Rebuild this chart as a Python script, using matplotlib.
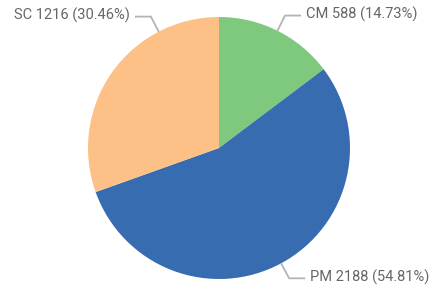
import numpy as np
import matplotlib
matplotlib.use('Agg')
import matplotlib.pyplot as plt

# --- data ---
labels = ['CM', 'PM', 'SC']
values = [588, 2188, 1216]
colors = ['#7fc97f', '#386cb0', '#fdc086']

# angle (deg) where each leader line leaves the pie
anchor_deg = [63.5, -61.7, 117.4]

W, H = 434, 289
cx, cy, R = 219, H - 148, 131

fig = plt.figure(figsize=(W / 100, H / 100), dpi=100)
ax = fig.add_axes([0, 0, 1, 1])

ax.pie(values, colors=colors, startangle=90, counterclock=False,
       center=(cx, cy), radius=R, frame=True,
       wedgeprops=dict(linewidth=0))
ax.set_xlim(0, W)
ax.set_ylim(0, H)
ax.axis('off')

total = sum(values)
for lab, v, a in zip(labels, values, anchor_deg):
    t = np.deg2rad(a)
    x0, y0 = cx + R * np.cos(t), cy + R * np.sin(t)
    x1, y1 = cx + 148 * np.cos(t), cy + 148 * np.sin(t)
    side = 1 if np.cos(t) > 0 else -1
    x2 = x1 + side * 16
    ax.plot([x0, x1, x2], [y0, y1, y1], color='#b4b4b4', lw=1.3,
            solid_capstyle='butt')
    ax.text(x2 + side * 5, y1 + 1, f'{lab} {v} ({v / total * 100:.2f}%)',
            ha='left' if side > 0 else 'right', va='center',
            color='#666666', fontsize=10.5, family='Roboto')

fig.savefig('out.png', dpi=100)
